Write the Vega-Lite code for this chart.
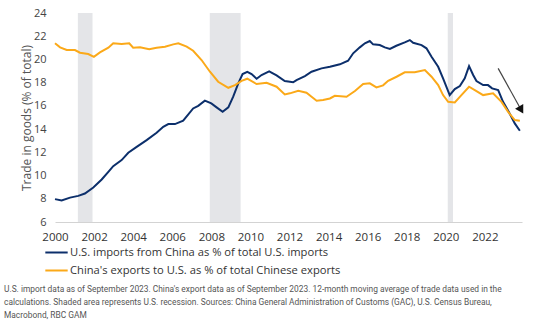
{
  "$schema": "https://vega.github.io/schema/vega-lite/v6.json",
  "autosize": {"type": "none"},
  "width": 467,
  "height": 209,
  "padding": {"left": 55, "top": 13, "right": 20, "bottom": 105},
  "background": "white",
  "title": {
    "text": [
      "U.S. import data as of September 2023. China's export data as of September 2023. 12-month moving average of trade data used in the",
      "calculations. Shaded area represents U.S. recession. Sources: China General Administration of Customs (GAC), U.S. Census Bureau,",
      "Macrobond, RBC GAM"
    ],
    "orient": "bottom",
    "anchor": "start",
    "frame": "group",
    "dx": -51,
    "offset": 9,
    "font": "Roboto",
    "fontSize": 8.4,
    "fontWeight": "normal",
    "color": "#555555",
    "lineHeight": 13
  },
  "datasets": {
    "rec": [
      {"start": 2001.17, "end": 2001.92},
      {"start": 2007.92, "end": 2009.5},
      {"start": 2020.1, "end": 2020.37}
    ],
    "arrow": [
      {"x": 2022.68, "y": 19.23, "x2": 2023.86, "y2": 15.65}
    ],
    "trade": [
      {"series": "U.S. imports from China as % of total U.S. imports", "year": 2000.0, "value": 7.97},
      {"series": "U.S. imports from China as % of total U.S. imports", "year": 2000.34, "value": 7.85},
      {"series": "U.S. imports from China as % of total U.S. imports", "year": 2000.77, "value": 8.1},
      {"series": "U.S. imports from China as % of total U.S. imports", "year": 2001.19, "value": 8.25},
      {"series": "U.S. imports from China as % of total U.S. imports", "year": 2001.53, "value": 8.45},
      {"series": "U.S. imports from China as % of total U.S. imports", "year": 2001.96, "value": 8.97},
      {"series": "U.S. imports from China as % of total U.S. imports", "year": 2002.39, "value": 9.66},
      {"series": "U.S. imports from China as % of total U.S. imports", "year": 2002.73, "value": 10.32},
      {"series": "U.S. imports from China as % of total U.S. imports", "year": 2002.98, "value": 10.81},
      {"series": "U.S. imports from China as % of total U.S. imports", "year": 2003.41, "value": 11.33},
      {"series": "U.S. imports from China as % of total U.S. imports", "year": 2003.75, "value": 11.96},
      {"series": "U.S. imports from China as % of total U.S. imports", "year": 2004.18, "value": 12.47},
      {"series": "U.S. imports from China as % of total U.S. imports", "year": 2004.69, "value": 13.05},
      {"series": "U.S. imports from China as % of total U.S. imports", "year": 2005.2, "value": 13.68},
      {"series": "U.S. imports from China as % of total U.S. imports", "year": 2005.54, "value": 14.2},
      {"series": "U.S. imports from China as % of total U.S. imports", "year": 2005.8, "value": 14.43},
      {"series": "U.S. imports from China as % of total U.S. imports", "year": 2006.14, "value": 14.43},
      {"series": "U.S. imports from China as % of total U.S. imports", "year": 2006.56, "value": 14.72},
      {"series": "U.S. imports from China as % of total U.S. imports", "year": 2007.07, "value": 15.78},
      {"series": "U.S. imports from China as % of total U.S. imports", "year": 2007.33, "value": 16.0},
      {"series": "U.S. imports from China as % of total U.S. imports", "year": 2007.67, "value": 16.45},
      {"series": "U.S. imports from China as % of total U.S. imports", "year": 2008.0, "value": 16.21},
      {"series": "U.S. imports from China as % of total U.S. imports", "year": 2008.27, "value": 15.87},
      {"series": "U.S. imports from China as % of total U.S. imports", "year": 2008.58, "value": 15.49},
      {"series": "U.S. imports from China as % of total U.S. imports", "year": 2008.87, "value": 15.87},
      {"series": "U.S. imports from China as % of total U.S. imports", "year": 2009.12, "value": 16.79},
      {"series": "U.S. imports from China as % of total U.S. imports", "year": 2009.38, "value": 17.94},
      {"series": "U.S. imports from China as % of total U.S. imports", "year": 2009.6, "value": 18.74},
      {"series": "U.S. imports from China as % of total U.S. imports", "year": 2009.84, "value": 18.94},
      {"series": "U.S. imports from China as % of total U.S. imports", "year": 2010.06, "value": 18.74},
      {"series": "U.S. imports from China as % of total U.S. imports", "year": 2010.32, "value": 18.34},
      {"series": "U.S. imports from China as % of total U.S. imports", "year": 2010.57, "value": 18.66},
      {"series": "U.S. imports from China as % of total U.S. imports", "year": 2010.96, "value": 18.97},
      {"series": "U.S. imports from China as % of total U.S. imports", "year": 2011.34, "value": 18.63},
      {"series": "U.S. imports from China as % of total U.S. imports", "year": 2011.76, "value": 18.14},
      {"series": "U.S. imports from China as % of total U.S. imports", "year": 2012.19, "value": 18.03},
      {"series": "U.S. imports from China as % of total U.S. imports", "year": 2012.36, "value": 18.22},
      {"series": "U.S. imports from China as % of total U.S. imports", "year": 2012.79, "value": 18.57},
      {"series": "U.S. imports from China as % of total U.S. imports", "year": 2013.13, "value": 18.94},
      {"series": "U.S. imports from China as % of total U.S. imports", "year": 2013.64, "value": 19.23},
      {"series": "U.S. imports from China as % of total U.S. imports", "year": 2014.07, "value": 19.37},
      {"series": "U.S. imports from China as % of total U.S. imports", "year": 2014.58, "value": 19.58},
      {"series": "U.S. imports from China as % of total U.S. imports", "year": 2015.0, "value": 19.89},
      {"series": "U.S. imports from China as % of total U.S. imports", "year": 2015.26, "value": 20.53},
      {"series": "U.S. imports from China as % of total U.S. imports", "year": 2015.6, "value": 21.04},
      {"series": "U.S. imports from China as % of total U.S. imports", "year": 2015.86, "value": 21.39},
      {"series": "U.S. imports from China as % of total U.S. imports", "year": 2016.11, "value": 21.59},
      {"series": "U.S. imports from China as % of total U.S. imports", "year": 2016.28, "value": 21.3},
      {"series": "U.S. imports from China as % of total U.S. imports", "year": 2016.62, "value": 21.24},
      {"series": "U.S. imports from China as % of total U.S. imports", "year": 2016.88, "value": 21.04},
      {"series": "U.S. imports from China as % of total U.S. imports", "year": 2017.14, "value": 20.9},
      {"series": "U.S. imports from China as % of total U.S. imports", "year": 2017.47, "value": 21.18},
      {"series": "U.S. imports from China as % of total U.S. imports", "year": 2017.9, "value": 21.47},
      {"series": "U.S. imports from China as % of total U.S. imports", "year": 2018.16, "value": 21.67},
      {"series": "U.S. imports from China as % of total U.S. imports", "year": 2018.33, "value": 21.44},
      {"series": "U.S. imports from China as % of total U.S. imports", "year": 2018.76, "value": 21.24},
      {"series": "U.S. imports from China as % of total U.S. imports", "year": 2019.01, "value": 20.96},
      {"series": "U.S. imports from China as % of total U.S. imports", "year": 2019.27, "value": 20.23},
      {"series": "U.S. imports from China as % of total U.S. imports", "year": 2019.61, "value": 19.37},
      {"series": "U.S. imports from China as % of total U.S. imports", "year": 2019.86, "value": 18.37},
      {"series": "U.S. imports from China as % of total U.S. imports", "year": 2020.2, "value": 16.93},
      {"series": "U.S. imports from China as % of total U.S. imports", "year": 2020.46, "value": 17.45},
      {"series": "U.S. imports from China as % of total U.S. imports", "year": 2020.72, "value": 17.71},
      {"series": "U.S. imports from China as % of total U.S. imports", "year": 2020.97, "value": 18.37},
      {"series": "U.S. imports from China as % of total U.S. imports", "year": 2021.19, "value": 19.43},
      {"series": "U.S. imports from China as % of total U.S. imports", "year": 2021.4, "value": 18.66},
      {"series": "U.S. imports from China as % of total U.S. imports", "year": 2021.57, "value": 18.14},
      {"series": "U.S. imports from China as % of total U.S. imports", "year": 2021.91, "value": 17.79},
      {"series": "U.S. imports from China as % of total U.S. imports", "year": 2022.16, "value": 17.79},
      {"series": "U.S. imports from China as % of total U.S. imports", "year": 2022.37, "value": 17.51},
      {"series": "U.S. imports from China as % of total U.S. imports", "year": 2022.68, "value": 17.36},
      {"series": "U.S. imports from China as % of total U.S. imports", "year": 2022.93, "value": 16.35},
      {"series": "U.S. imports from China as % of total U.S. imports", "year": 2023.22, "value": 15.49},
      {"series": "U.S. imports from China as % of total U.S. imports", "year": 2023.53, "value": 14.49},
      {"series": "U.S. imports from China as % of total U.S. imports", "year": 2023.79, "value": 13.86},
      {"series": "China's exports to U.S. as % of total Chinese exports", "year": 2000.0, "value": 21.39},
      {"series": "China's exports to U.S. as % of total Chinese exports", "year": 2000.26, "value": 21.04},
      {"series": "China's exports to U.S. as % of total Chinese exports", "year": 2000.6, "value": 20.81},
      {"series": "China's exports to U.S. as % of total Chinese exports", "year": 2001.02, "value": 20.81},
      {"series": "China's exports to U.S. as % of total Chinese exports", "year": 2001.28, "value": 20.58},
      {"series": "China's exports to U.S. as % of total Chinese exports", "year": 2001.7, "value": 20.47},
      {"series": "China's exports to U.S. as % of total Chinese exports", "year": 2001.99, "value": 20.23},
      {"series": "China's exports to U.S. as % of total Chinese exports", "year": 2002.3, "value": 20.61},
      {"series": "China's exports to U.S. as % of total Chinese exports", "year": 2002.73, "value": 21.01},
      {"series": "China's exports to U.S. as % of total Chinese exports", "year": 2002.98, "value": 21.39},
      {"series": "China's exports to U.S. as % of total Chinese exports", "year": 2003.41, "value": 21.33},
      {"series": "China's exports to U.S. as % of total Chinese exports", "year": 2003.8, "value": 21.39},
      {"series": "China's exports to U.S. as % of total Chinese exports", "year": 2004.0, "value": 21.01},
      {"series": "China's exports to U.S. as % of total Chinese exports", "year": 2004.35, "value": 21.04},
      {"series": "China's exports to U.S. as % of total Chinese exports", "year": 2004.82, "value": 20.87},
      {"series": "China's exports to U.S. as % of total Chinese exports", "year": 2005.2, "value": 21.01},
      {"series": "China's exports to U.S. as % of total Chinese exports", "year": 2005.63, "value": 21.1},
      {"series": "China's exports to U.S. as % of total Chinese exports", "year": 2006.05, "value": 21.3},
      {"series": "China's exports to U.S. as % of total Chinese exports", "year": 2006.31, "value": 21.39},
      {"series": "China's exports to U.S. as % of total Chinese exports", "year": 2006.74, "value": 21.1},
      {"series": "China's exports to U.S. as % of total Chinese exports", "year": 2007.07, "value": 20.75},
      {"series": "China's exports to U.S. as % of total Chinese exports", "year": 2007.5, "value": 19.95},
      {"series": "China's exports to U.S. as % of total Chinese exports", "year": 2007.93, "value": 18.94},
      {"series": "China's exports to U.S. as % of total Chinese exports", "year": 2008.35, "value": 18.08},
      {"series": "China's exports to U.S. as % of total Chinese exports", "year": 2008.87, "value": 17.56},
      {"series": "China's exports to U.S. as % of total Chinese exports", "year": 2009.21, "value": 17.79},
      {"series": "China's exports to U.S. as % of total Chinese exports", "year": 2009.55, "value": 18.16},
      {"series": "China's exports to U.S. as % of total Chinese exports", "year": 2009.84, "value": 18.34},
      {"series": "China's exports to U.S. as % of total Chinese exports", "year": 2010.32, "value": 17.88},
      {"series": "China's exports to U.S. as % of total Chinese exports", "year": 2010.83, "value": 17.99},
      {"series": "China's exports to U.S. as % of total Chinese exports", "year": 2011.34, "value": 17.65},
      {"series": "China's exports to U.S. as % of total Chinese exports", "year": 2011.76, "value": 16.99},
      {"series": "China's exports to U.S. as % of total Chinese exports", "year": 2012.02, "value": 17.08},
      {"series": "China's exports to U.S. as % of total Chinese exports", "year": 2012.45, "value": 17.3},
      {"series": "China's exports to U.S. as % of total Chinese exports", "year": 2012.87, "value": 17.13},
      {"series": "China's exports to U.S. as % of total Chinese exports", "year": 2013.13, "value": 16.79},
      {"series": "China's exports to U.S. as % of total Chinese exports", "year": 2013.39, "value": 16.44},
      {"series": "China's exports to U.S. as % of total Chinese exports", "year": 2013.72, "value": 16.5},
      {"series": "China's exports to U.S. as % of total Chinese exports", "year": 2014.07, "value": 16.64},
      {"series": "China's exports to U.S. as % of total Chinese exports", "year": 2014.32, "value": 16.87},
      {"series": "China's exports to U.S. as % of total Chinese exports", "year": 2014.92, "value": 16.79},
      {"series": "China's exports to U.S. as % of total Chinese exports", "year": 2015.35, "value": 17.28},
      {"series": "China's exports to U.S. as % of total Chinese exports", "year": 2015.77, "value": 17.88},
      {"series": "China's exports to U.S. as % of total Chinese exports", "year": 2016.11, "value": 17.94},
      {"series": "China's exports to U.S. as % of total Chinese exports", "year": 2016.45, "value": 17.59},
      {"series": "China's exports to U.S. as % of total Chinese exports", "year": 2016.79, "value": 17.77},
      {"series": "China's exports to U.S. as % of total Chinese exports", "year": 2017.05, "value": 18.16},
      {"series": "China's exports to U.S. as % of total Chinese exports", "year": 2017.48, "value": 18.51},
      {"series": "China's exports to U.S. as % of total Chinese exports", "year": 2017.9, "value": 18.89},
      {"series": "China's exports to U.S. as % of total Chinese exports", "year": 2018.41, "value": 18.89},
      {"series": "China's exports to U.S. as % of total Chinese exports", "year": 2018.93, "value": 19.09},
      {"series": "China's exports to U.S. as % of total Chinese exports", "year": 2019.27, "value": 18.51},
      {"series": "China's exports to U.S. as % of total Chinese exports", "year": 2019.61, "value": 17.79},
      {"series": "China's exports to U.S. as % of total Chinese exports", "year": 2019.86, "value": 16.93},
      {"series": "China's exports to U.S. as % of total Chinese exports", "year": 2020.12, "value": 16.35},
      {"series": "China's exports to U.S. as % of total Chinese exports", "year": 2020.46, "value": 16.3},
      {"series": "China's exports to U.S. as % of total Chinese exports", "year": 2020.8, "value": 16.93},
      {"series": "China's exports to U.S. as % of total Chinese exports", "year": 2021.19, "value": 17.65},
      {"series": "China's exports to U.S. as % of total Chinese exports", "year": 2021.57, "value": 17.28},
      {"series": "China's exports to U.S. as % of total Chinese exports", "year": 2021.91, "value": 16.93},
      {"series": "China's exports to U.S. as % of total Chinese exports", "year": 2022.42, "value": 17.08},
      {"series": "China's exports to U.S. as % of total Chinese exports", "year": 2022.85, "value": 16.35},
      {"series": "China's exports to U.S. as % of total Chinese exports", "year": 2023.19, "value": 15.49},
      {"series": "China's exports to U.S. as % of total Chinese exports", "year": 2023.53, "value": 14.78},
      {"series": "China's exports to U.S. as % of total Chinese exports", "year": 2023.79, "value": 14.72}
    ]
  },
  "layer": [
    {
      "data": {"name": "rec"},
      "mark": {"type": "rect", "color": "#E4E5E8"},
      "encoding": {
        "x": {"field": "start", "type": "quantitative", "title": null},
        "x2": {"field": "end"}
      }
    },
    {
      "data": {"name": "trade"},
      "mark": {"type": "line", "strokeWidth": 2, "clip": false},
      "encoding": {
        "x": {
          "field": "year", "type": "quantitative", "title": null,
          "scale": {"domain": [2000, 2023.9], "nice": false, "zero": false}
        },
        "y": {
          "field": "value", "type": "quantitative", "title": "Trade in goods (% of total)",
          "scale": {"domain": [6, 24], "nice": false, "zero": false}
        },
        "color": {
          "field": "series", "type": "nominal",
          "scale": {
            "domain": ["U.S. imports from China as % of total U.S. imports", "China's exports to U.S. as % of total Chinese exports"],
            "range": ["#0C2F6B", "#FBA919"]
          },
          "legend": {
            "title": null,
            "orient": "none",
            "legendX": -11,
            "legendY": 227,
            "symbolType": "stroke",
            "symbolSize": 500,
            "symbolStrokeWidth": 2,
            "labelFont": "Open Sans",
            "labelFontSize": 11.2,
            "labelColor": "#333333",
            "labelOffset": 1,
            "labelLimit": 500,
            "rowPadding": -1,
            "padding": 0
          }
        }
      }
    },
    {
      "data": {"name": "arrow"},
      "mark": {"type": "rule", "color": "#444444", "strokeWidth": 1.2, "clip": false},
      "encoding": {
        "x": {"field": "x", "type": "quantitative", "title": null},
        "y": {"field": "y", "type": "quantitative", "title": "Trade in goods (% of total)"},
        "x2": {"field": "x2"},
        "y2": {"field": "y2"}
      }
    },
    {
      "data": {"name": "arrow"},
      "mark": {"type": "point", "shape": "triangle-down", "filled": true, "color": "#111111", "opacity": 1, "size": 90, "angle": -30, "clip": false},
      "encoding": {
        "x": {"field": "x2", "type": "quantitative", "title": null},
        "y": {"field": "y2", "type": "quantitative", "title": "Trade in goods (% of total)"}
      }
    }
  ],
  "config": {
    "view": {"stroke": null},
    "axisX": {
      "values": [2000, 2002, 2004, 2006, 2008, 2010, 2012, 2014, 2016, 2018, 2020, 2022],
      "format": "d",
      "grid": false,
      "ticks": false,
      "domain": true,
      "domainColor": "#D3D3D3",
      "domainWidth": 1,
      "labelFont": "Open Sans",
      "labelFontSize": 11.5,
      "labelColor": "#333333",
      "labelPadding": 9,
      "labelFlush": false,
      "labelOverlap": false
    },
    "axisY": {
      "values": [6, 8, 10, 12, 14, 16, 18, 20, 22, 24],
      "grid": false,
      "ticks": false,
      "domain": false,
      "labelFont": "Open Sans",
      "labelFontSize": 11,
      "labelColor": "#444444",
      "labelPadding": 9,
      "labelOverlap": false,
      "titleFont": "Open Sans",
      "titleFontSize": 12,
      "titleFontWeight": "normal",
      "titleColor": "#555555",
      "titlePadding": -0.5
    }
  }
}
